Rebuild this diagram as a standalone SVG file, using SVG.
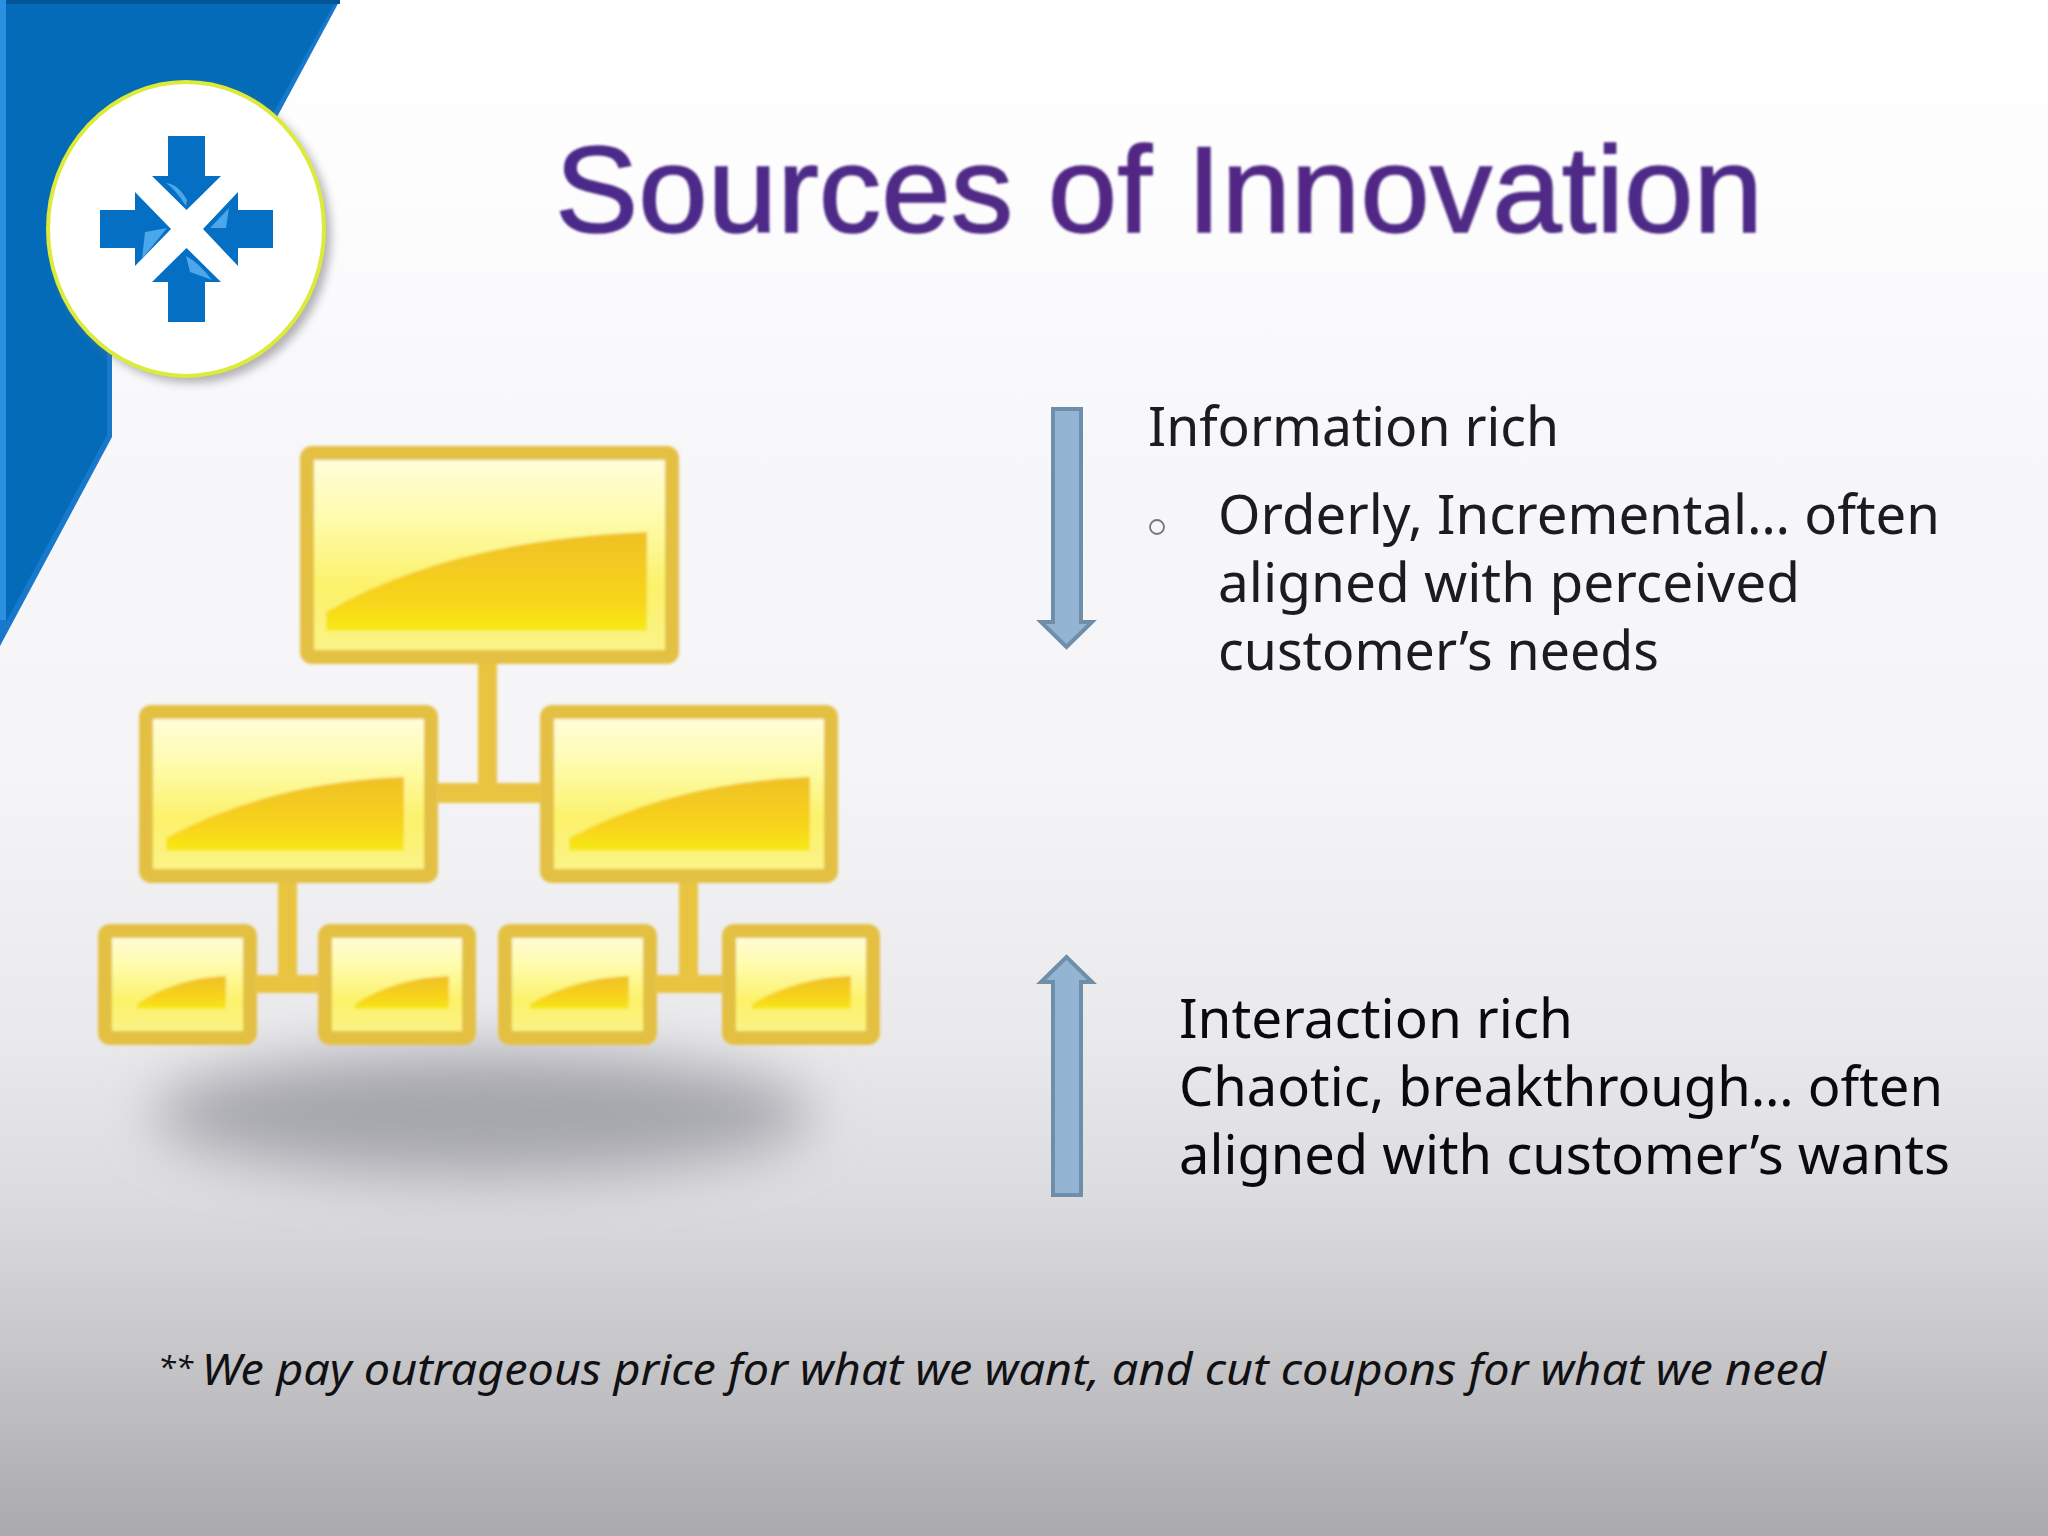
<svg xmlns="http://www.w3.org/2000/svg" width="2048" height="1536" viewBox="0 0 2048 1536">
<style>
.t{font-family:"Noto Sans","Liberation Sans",sans-serif;font-size:54px;fill:#1c1c20}
.k{fill:#0a0a0e}
.box{stroke:#e3c043;stroke-width:14;stroke-linejoin:round}
.link{fill:#e8c440}
.arr{fill:#93b4d2;stroke:#6f8ea9;stroke-width:4;stroke-linejoin:miter}
.la{fill:#046fc3}
.gl{fill:#4ba6ea}
</style>
<defs>
<linearGradient id="bg" x1="0" y1="0" x2="0" y2="1">
<stop offset="0" stop-color="#ffffff"/><stop offset=".12" stop-color="#fdfdfe"/><stop offset=".3" stop-color="#f7f6f9"/><stop offset=".5" stop-color="#f5f5f7"/><stop offset=".68" stop-color="#e9e9eb"/><stop offset=".78" stop-color="#dcdcde"/><stop offset=".87" stop-color="#c9c8cb"/><stop offset="1" stop-color="#aaa9ae"/>
</linearGradient>
<linearGradient id="fillY" x1="0" y1="0" x2="0" y2="1">
<stop offset="0" stop-color="#fffde0"/><stop offset=".3" stop-color="#fefcb0"/><stop offset=".65" stop-color="#fcf26a"/><stop offset="1" stop-color="#fbf38a"/>
</linearGradient>
<linearGradient id="glow" x1="0" y1="0" x2="0" y2="1">
<stop offset="0" stop-color="#efc024"/><stop offset=".7" stop-color="#f8d51c"/><stop offset="1" stop-color="#f7ea12"/>
</linearGradient>
<linearGradient id="title" x1="0" y1="0" x2="1" y2="0">
<stop offset="0" stop-color="#4a2c8c"/><stop offset=".5" stop-color="#542884"/><stop offset="1" stop-color="#4c2a88"/>
</linearGradient>
<filter id="b25" x="-30%" y="-100%" width="160%" height="300%"><feGaussianBlur stdDeviation="28"/></filter>
<filter id="b5" x="-20%" y="-20%" width="140%" height="140%"><feGaussianBlur stdDeviation="5"/></filter>
<filter id="b1" x="-5%" y="-5%" width="110%" height="110%"><feGaussianBlur stdDeviation="1.500"/></filter>
<filter id="tb" x="-5%" y="-20%" width="110%" height="140%"><feGaussianBlur stdDeviation=".9"/></filter>
</defs>
<rect id="background" width="2048" height="1536" fill="url(#bg)"/>
<g id="corner-band">
<polygon points="0,0 340,0 270,130 112,300 112,437 0,646" fill="#1879cc"/>
<polygon points="6,4 334,4 264,130 107,300 107,435 6,622" fill="#046bb8"/>
<rect width="340" height="4" fill="#04549a"/>
<rect width="6" height="620" fill="#2a90e0"/>
</g>
<g id="logo">
<ellipse cx="192" cy="235" rx="139" ry="148" fill="#77757c" opacity=".55" filter="url(#b5)"/>
<ellipse cx="186" cy="229" rx="138" ry="147" fill="#fff" stroke="#dcea3a" stroke-width="4"/>
<g>
<polygon class="la" points="168,136 205,136 205,176 221,176 186.500,210 152,176 168,176"/>
<polygon class="la" points="168,322 205,322 205,282 221,282 186.500,248 152,282 168,282"/>
<polygon class="la" points="100,210 135,210 135,192 171,229 135,266 135,248 100,248"/>
<polygon class="la" points="273,210 238,210 238,192 203,229 238,266 238,248 273,248"/>
<path class="gl" d="M166,183 Q178,184 187,200 L186,206 Q176,190 166,183Z"/>
<path class="gl" d="M186,256 Q198,262 212,280 L190,272Z"/>
<path class="gl" d="M145,232 L167,228 L142,259Z"/>
<path class="gl" d="M210,228 L229,208 L226,228Z"/>
</g>
</g>
<g id="title-text">
<text x="555" y="232" font-family="Liberation Sans,Arial,sans-serif" font-size="122" fill="url(#title)" stroke="#4c2884" stroke-width="1.500" textLength="1208" lengthAdjust="spacingAndGlyphs" filter="url(#tb)">Sources of Innovation</text>
</g>
<ellipse id="org-shadow" cx="483" cy="1114" rx="330" ry="62" fill="#a6a6ad" filter="url(#b25)"/>
<g id="connectors" filter="url(#b1)">
<rect class="link" x="478" y="660" width="19" height="130"/>
<rect class="link" x="436" y="783" width="106" height="20"/>
<rect class="link" x="278" y="880" width="19" height="105"/>
<rect class="link" x="255" y="975" width="65" height="18"/>
<rect class="link" x="679" y="880" width="19" height="105"/>
<rect class="link" x="655" y="975" width="69" height="18"/>
</g>
<g id="org-chart" filter="url(#b1)">
<g id="node-top"><rect class="box" x="307" y="453" width="365" height="204" rx="5" fill="url(#fillY)"/><path d="M326,631 V612 Q450,540 647,532 V631Z" fill="url(#glow)"/></g>
<g id="node-mid-left"><rect class="box" x="146" y="712" width="285" height="164" rx="5" fill="url(#fillY)"/><path d="M166,851 V838 Q270,782 404,777 V851Z" fill="url(#glow)"/></g>
<g id="node-mid-right"><rect class="box" x="547" y="712" width="284" height="164" rx="5" fill="url(#fillY)"/><path d="M569,851 V838 Q675,782 810,777 V851Z" fill="url(#glow)"/></g>
<g id="node-leaf-1"><rect class="box" x="105" y="931" width="145" height="107" rx="5" fill="url(#fillY)"/><path d="M137,1009 V1004 Q175,978 226,976 V1009Z" fill="url(#glow)"/></g>
<g id="node-leaf-2"><rect class="box" x="325" y="931" width="144" height="107" rx="5" fill="url(#fillY)"/><path d="M355,1009 V1004 Q395,978 449,976 V1009Z" fill="url(#glow)"/></g>
<g id="node-leaf-3"><rect class="box" x="505" y="931" width="145" height="107" rx="5" fill="url(#fillY)"/><path d="M530,1009 V1004 Q575,978 629,976 V1009Z" fill="url(#glow)"/></g>
<g id="node-leaf-4"><rect class="box" x="729" y="931" width="144" height="107" rx="5" fill="url(#fillY)"/><path d="M752,1009 V1004 Q795,978 851,976 V1009Z" fill="url(#glow)"/></g>
</g>
<g id="arrow-down"><polygon class="arr" points="1053,409 1081,409 1081,622 1092,622 1066.500,647 1041,622 1053,622"/></g>
<g id="arrow-up"><polygon class="arr" points="1053,1195 1081,1195 1081,982 1092,982 1066.500,957 1041,982 1053,982"/></g>
<g id="text-information">
<text class="t" x="1148" y="446" textLength="411" lengthAdjust="spacingAndGlyphs">Information rich</text>
<circle cx="1157" cy="527" r="7" fill="none" stroke="#77757a" stroke-width="1.800"/>
<text class="t" x="1218" y="534" textLength="722" lengthAdjust="spacingAndGlyphs">Orderly, Incremental… often</text>
<text class="t" x="1218" y="602" textLength="582" lengthAdjust="spacingAndGlyphs">aligned with perceived</text>
<text class="t" x="1218" y="670" textLength="441" lengthAdjust="spacingAndGlyphs">customer’s needs</text>
</g>
<g id="text-interaction">
<text class="t k" x="1179" y="1038" textLength="394" lengthAdjust="spacingAndGlyphs">Interaction rich</text>
<text class="t k" x="1179" y="1106" textLength="764" lengthAdjust="spacingAndGlyphs">Chaotic, breakthrough… often</text>
<text class="t k" x="1179" y="1174" textLength="771" lengthAdjust="spacingAndGlyphs">aligned with customer’s wants</text>
</g>
<g id="footnote">
<text x="158" y="1385" font-family="Noto Sans,Liberation Sans,sans-serif" font-style="italic" font-size="44" fill="#111114" textLength="1668" lengthAdjust="spacingAndGlyphs"><tspan font-size="30" dy="-6">** </tspan><tspan dy="6">We pay outrageous price for what we want, and cut coupons for what we need</tspan></text>
</g>
</svg>
